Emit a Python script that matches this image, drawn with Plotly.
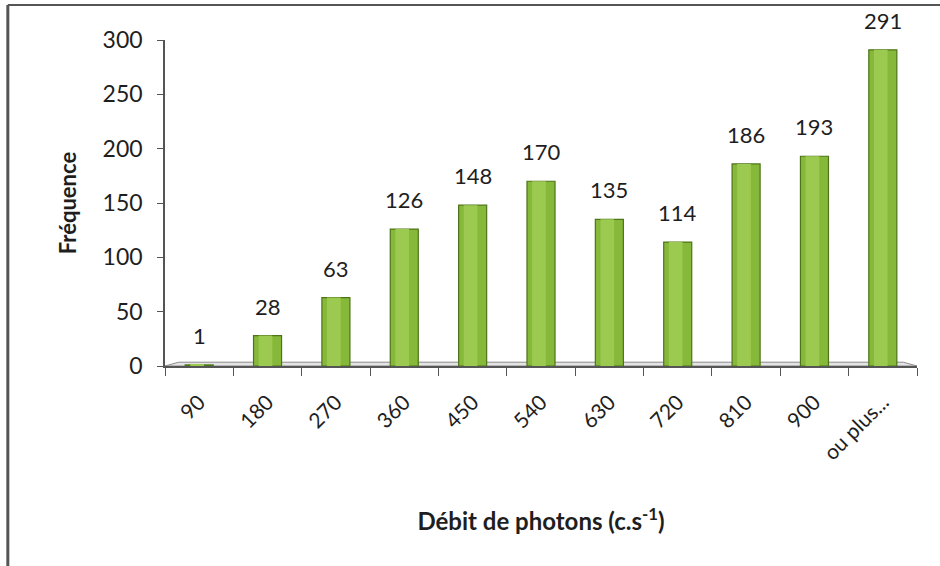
import plotly.graph_objects as go

categories = ["90", "180", "270", "360", "450", "540", "630", "720", "810", "900", "ou plus..."]
frequencies = [1, 28, 63, 126, 148, 170, 135, 114, 186, 193, 291]
y_ticks = [0, 50, 100, 150, 200, 250, 300]

FONT = "Lato, 'Open Sans', sans-serif"
TEXT = "#1e1e1e"

fig = go.Figure()

# main cylinder body
fig.add_trace(go.Bar(
    x=categories, y=frequencies, width=0.41,
    marker=dict(color="#86b83a", line=dict(color="#4d7418", width=1.2)),
    cliponaxis=False, hoverinfo="skip",
))
# lighter highlight stripe on each cylinder
fig.add_trace(go.Bar(
    x=categories, y=frequencies, width=0.2, offset=-0.13,
    marker=dict(color="#9cca50", line=dict(width=0)),
    hoverinfo="skip",
))

# value labels floating above each bar (x given as category index)
for idx, val in enumerate(frequencies):
    fig.add_annotation(x=idx, y=val, text=str(val), showarrow=False,
                       yanchor="bottom", yshift=14,
                       font=dict(family=FONT, size=22, color=TEXT))

# thin floor slab under the bars
fig.add_shape(type="path", xref="x", yref="y",
              path="M -0.5,0 L 10.5,0 L 10.3,3.5 L -0.3,3.5 Z",
              fillcolor="#e4e4e4", line=dict(color="#8a8a8a", width=1), layer="below")

# chart frame (left and top edges)
fig.add_shape(type="line", xref="paper", yref="paper", x0=-0.209, x1=1.1, y0=1.107, y1=1.107,
              line=dict(color="#555", width=2))
fig.add_shape(type="line", xref="paper", yref="paper", x0=-0.209, x1=-0.209, y0=1.107, y1=-0.62,
              line=dict(color="#555", width=3))

fig.update_layout(
    width=940, height=566,
    margin=dict(l=165, r=23, t=40, b=200),
    paper_bgcolor="white", plot_bgcolor="white",
    showlegend=False, barmode="overlay", bargap=0.6,
    font=dict(family=FONT, color=TEXT),
    xaxis=dict(
        type="category", showline=True, linecolor="#555", linewidth=1.5,
        ticks="outside", tickson="boundaries", ticklen=8, tickcolor="#555",
        tickangle=-45, tickfont=dict(family=FONT, size=21, color=TEXT),
        ticklabelstandoff=14,
        title=dict(text="<b>Débit de photons (c.s<sup>-1</sup>)</b>",
                   font=dict(family=FONT, size=24, color=TEXT), standoff=50),
        range=[-0.5, 10.5],
    ),
    yaxis=dict(
        range=[0, 300], tickvals=y_ticks, showgrid=False, zeroline=False,
        showline=True, linecolor="#555", linewidth=1.5,
        ticks="outside", ticklen=6, tickcolor="#555",
        ticklabelstandoff=10,
        tickfont=dict(family=FONT, size=23, color=TEXT),
        title=dict(text="<b>Fréquence</b>", font=dict(family=FONT, size=22, color=TEXT), standoff=20),
    ),
)

fig.write_html("out.html")
